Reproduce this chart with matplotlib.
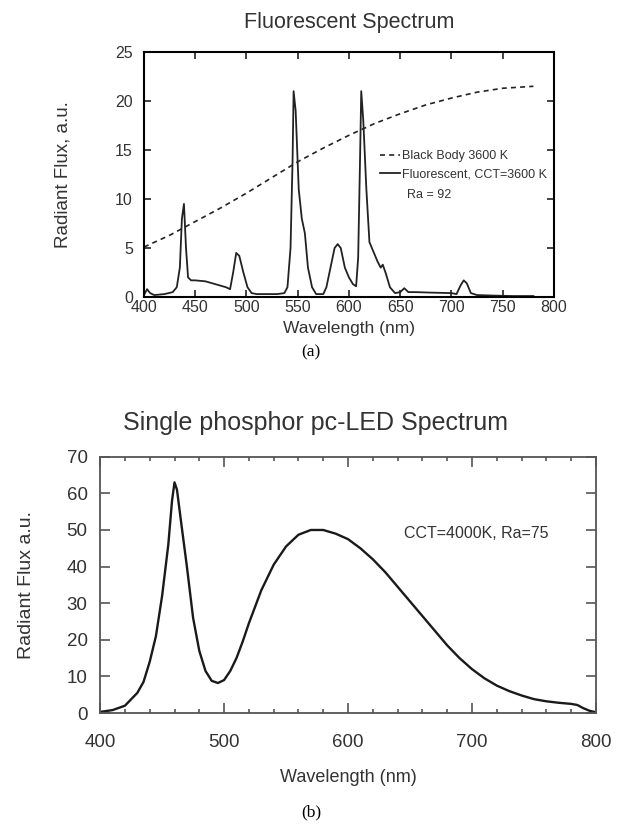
import matplotlib.pyplot as plt
from matplotlib.ticker import MultipleLocator

plt.rcParams['font.family'] = ['Liberation Sans', 'DejaVu Sans']

# Fluorescent lamp spectrum (a)
fl_wl = [400, 403, 406, 410, 420, 428, 432, 435, 437, 439, 441, 443, 446, 450, 460, 470,
         480, 484, 487, 490, 493, 497, 501, 505, 510, 520, 530, 537, 540, 543, 545, 546,
         548, 551, 554, 557, 560, 564, 568, 575, 578, 582, 586, 589, 592, 596, 600, 604,
         607, 609, 611, 612, 614, 617, 620, 624, 628, 631, 633, 636, 640, 645, 650, 654,
         658, 665, 680, 700, 705, 709, 712, 715, 719, 725, 740, 760, 780]
fl_val = [0.2, 0.8, 0.4, 0.2, 0.3, 0.5, 1.0, 3.0, 8.0, 9.5, 5.0, 2.0, 1.7, 1.7, 1.6, 1.3,
          1.0, 0.8, 2.5, 4.5, 4.2, 2.5, 1.0, 0.4, 0.3, 0.3, 0.3, 0.4, 1.0, 5.0, 14.0, 21.0,
          19.0, 11.0, 8.0, 6.5, 3.0, 1.0, 0.3, 0.3, 1.0, 3.0, 5.0, 5.4, 5.0, 3.0, 2.0, 1.3,
          1.1, 4.0, 15.0, 21.0, 18.0, 11.0, 5.6, 4.6, 3.6, 3.0, 3.3, 2.4, 1.0, 0.4, 0.5, 0.9,
          0.5, 0.5, 0.45, 0.4, 0.3, 1.2, 1.7, 1.4, 0.4, 0.2, 0.15, 0.1, 0.1]

# Black body 3600 K reference (a)
bb_wl = [400, 425, 450, 475, 500, 525, 550, 575, 600, 625, 650, 675, 700, 725, 750, 780]
bb_val = [5.1, 6.3, 7.7, 9.1, 10.6, 12.2, 13.8, 15.2, 16.5, 17.7, 18.7, 19.6, 20.3, 20.9, 21.3, 21.5]

# Single phosphor pc-LED spectrum (b)
led_wl = [400, 410, 420, 430, 435, 440, 445, 450, 455, 458, 460, 462, 465, 470, 475, 480,
          485, 490, 495, 500, 505, 510, 515, 520, 525, 530, 540, 550, 560, 570, 580, 590,
          600, 610, 620, 630, 640, 650, 660, 670, 680, 690, 700, 710, 720, 730, 740, 750,
          760, 770, 780, 785, 790, 795, 800]
led_val = [0.3, 0.8, 2.0, 5.5, 8.5, 14, 21, 32, 46, 58, 63, 61, 53, 40, 26, 17,
           11.5, 8.8, 8.2, 9.0, 11.5, 15, 19.5, 24.5, 29, 33.5, 40.5, 45.5, 48.7, 50, 50, 49,
           47.5, 45, 42, 38.5, 34.5, 30.5, 26.5, 22.5, 18.5, 15, 12, 9.5, 7.5, 6.0, 4.8, 3.8,
           3.2, 2.8, 2.5, 2.2, 1.3, 0.6, 0.2]

txt = '#333333'
fig = plt.figure(figsize=(6.22, 8.32), dpi=100)

# ---- (a) fluorescent
ax1 = fig.add_axes([0.2315, 0.643, 0.659, 0.2945])
ax1.plot(bb_wl, bb_val, color='#222222', linestyle=(0, (3, 2.5)), linewidth=1.2,
         label='Black Body 3600 K')
ax1.plot(fl_wl, fl_val, color='#222222', linewidth=1.3, label='Fluorescent, CCT=3600 K')
ax1.set_xlim(400, 800)
ax1.set_ylim(0, 25)
ax1.xaxis.set_major_locator(MultipleLocator(50))
ax1.yaxis.set_major_locator(MultipleLocator(5))
ax1.tick_params(direction='in', top=True, right=True, length=5, width=1.2,
                labelsize=11.5, colors='#222222', labelcolor=txt)
ax1.tick_params(axis='x', pad=2.5)
ax1.tick_params(axis='y', pad=8)
for s in ax1.spines.values():
    s.set_linewidth(1.5)
ax1.set_title('Fluorescent Spectrum', fontsize=15.5, color=txt, pad=17)
ax1.set_xlabel('Wavelength (nm)', fontsize=12.5, color=txt)
ax1.set_ylabel('Radiant Flux, a.u.', fontsize=13.5, color=txt)
ax1.xaxis.set_label_coords(0.5, -0.128)
ax1.xaxis.label.set_va('center')
ax1.yaxis.set_label_coords(-0.198, 0.5)
ax1.yaxis.label.set_va('center')
leg = ax1.legend(loc='upper left', bbox_to_anchor=(0.575, 0.60), frameon=False,
                 fontsize=9, handlelength=1.6, handletextpad=0.2, labelspacing=0.52,
                 borderpad=0, borderaxespad=0, labelcolor=txt)
ax1.text(0.641, 0.416, 'Ra = 92', transform=ax1.transAxes, fontsize=9, color=txt,
         va='center')
fig.text(0.5, 1 - 352 / 832, '(a)', ha='center', va='center', fontsize=12.5,
         family='Liberation Serif')

# ---- (b) pc-LED
ax2 = fig.add_axes([0.161, 0.143, 0.797, 0.308])
ax2.plot(led_wl, led_val, color='#1a1a1a', linewidth=1.7)
ax2.set_xlim(400, 800)
ax2.set_ylim(0, 70)
ax2.xaxis.set_major_locator(MultipleLocator(100))
ax2.xaxis.set_minor_locator(MultipleLocator(20))
ax2.yaxis.set_major_locator(MultipleLocator(10))
ax2.tick_params(which='major', direction='in', top=True, right=True, length=7, width=1.2,
                labelsize=13.5, colors='#555555', labelcolor=txt)
ax2.tick_params(axis='x', which='major', pad=15)
ax2.tick_params(axis='y', which='major', pad=9)
ax2.tick_params(which='minor', direction='in', top=True, right=True, length=3, width=1.2,
                colors='#555555')
for s in ax2.spines.values():
    s.set_linewidth(1.3)
    s.set_color('#555555')
ax2.set_title('Single phosphor pc-LED Spectrum', fontsize=18, color=txt, pad=19.5,
              x=0.435)
ax2.set_xlabel('Wavelength (nm)', fontsize=13, color=txt)
ax2.set_ylabel('Radiant Flux a.u.', fontsize=14, color=txt)
ax2.xaxis.set_label_coords(0.5, -0.25)
ax2.xaxis.label.set_va('center')
ax2.yaxis.set_label_coords(-0.149, 0.5)
ax2.yaxis.label.set_va('center')
ax2.text(645, 49, 'CCT=4000K, Ra=75', fontsize=11.5, color=txt, va='center')
fig.text(0.5, 1 - 812 / 832, '(b)', ha='center', va='center', fontsize=12.5,
         family='Liberation Serif')

fig.savefig('out.png', dpi=100)
